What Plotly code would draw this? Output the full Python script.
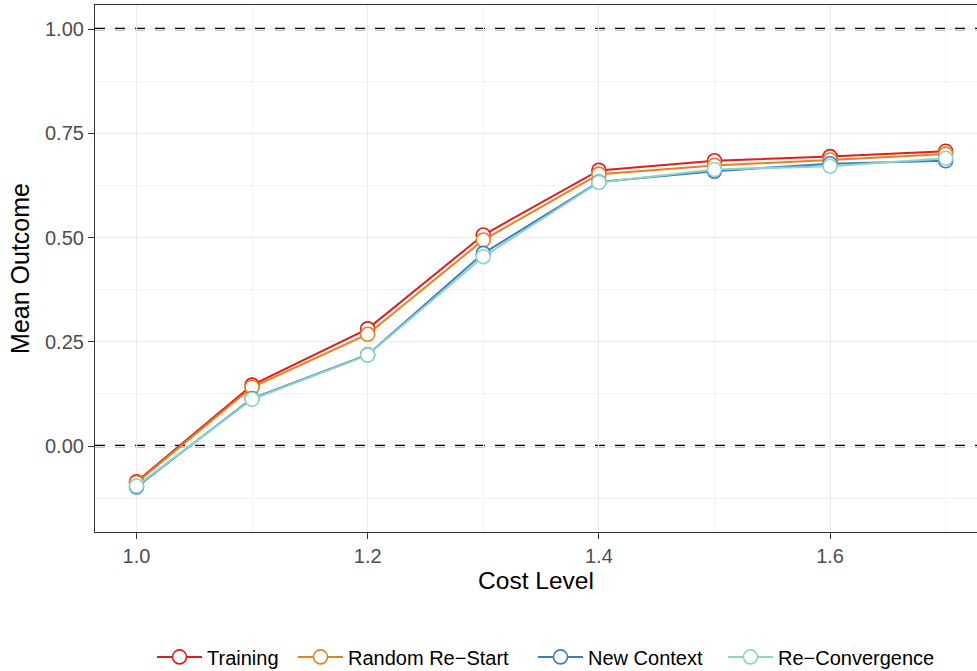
import plotly.graph_objects as go

cost_levels = [1.0, 1.1, 1.2, 1.3, 1.4, 1.5, 1.6, 1.7]
training = [-0.086, 0.146, 0.281, 0.506, 0.661, 0.684, 0.694, 0.707]
random_restart = [-0.088, 0.141, 0.268, 0.494, 0.652, 0.673, 0.686, 0.700]
new_context = [-0.098, 0.114, 0.219, 0.462, 0.633, 0.659, 0.677, 0.684]
re_convergence = [-0.096, 0.112, 0.218, 0.454, 0.632, 0.663, 0.671, 0.690]

series_names = ["Training", "Random Re\u2212Start", "New Context", "Re\u2212Convergence"]
series_values = [training, random_restart, new_context, re_convergence]
series_colors = ["#E41A1C", "#E8801E", "#3A7DC2", "#8ED3C7"]

x_ticks = [1.0, 1.2, 1.4, 1.6]
x_tick_labels = ["1.0", "1.2", "1.4", "1.6"]
y_ticks = [0.0, 0.25, 0.5, 0.75, 1.0]
y_tick_labels = ["0.00", "0.25", "0.50", "0.75", "1.00"]
ref_lines = [0.0, 1.0]

font_family = "Liberation Sans, Arial, sans-serif"

# legend entry left positions (pixels)
legend_px = [152, 293, 533, 723]
plot_left, plot_right = 95, 977

fig = go.Figure()
legend_ids = ["legend", "legend2", "legend3", "legend4"]
for name, vals, col, lid in zip(series_names, series_values, series_colors, legend_ids):
    fig.add_trace(go.Scatter(
        x=cost_levels, y=vals, name=name, mode="lines+markers",
        line=dict(color=col, width=2),
        marker=dict(symbol="circle", size=14, color="white",
                    line=dict(color=col, width=1.6)),
        legend=lid,
    ))

for yv in ref_lines:
    fig.add_shape(type="line", xref="paper", x0=0, x1=1, yref="y", y0=yv, y1=yv,
                  line=dict(color="black", width=2.6, dash="10px,10px"), layer="below")

legend_common = dict(orientation="h", xanchor="left", y=-0.237, yanchor="middle",
                     font=dict(size=20, color="black", family=font_family),
                     itemwidth=45, bgcolor="rgba(0,0,0,0)", borderwidth=0)
legends = {}
for lid, px in zip(legend_ids, legend_px):
    legends[lid] = dict(x=(px - plot_left) / (plot_right - plot_left), **legend_common)

grid_major = "#EBEBEB"
fig.update_layout(
    width=977, height=671,
    margin=dict(l=95, r=0, t=5, b=139, autoexpand=False),
    plot_bgcolor="white", paper_bgcolor="white",
    font=dict(family=font_family, color="black"),
    showlegend=True,
    xaxis=dict(
        range=[0.9641, 1.7271], tickvals=x_ticks, ticktext=x_tick_labels,
        showgrid=True, gridcolor=grid_major, gridwidth=1.2,
        minor=dict(tickvals=[1.1, 1.3, 1.5, 1.7], showgrid=True, gridcolor="#F3F3F3", gridwidth=0.6, ticks=""),
        ticks="outside", ticklen=6, tickwidth=1.2, tickcolor="#333333",
        tickfont=dict(size=20, color="#4D4D4D"),
        showline=True, linecolor="#333333", linewidth=1.2, mirror=True,
        zeroline=False, automargin=False,
        title=dict(text="Cost Level", font=dict(size=24.5, color="black"), standoff=5),
    ),
    yaxis=dict(
        range=[-0.2062, 1.0576], tickvals=y_ticks, ticktext=y_tick_labels,
        showgrid=True, gridcolor=grid_major, gridwidth=1.2,
        minor=dict(tickvals=[-0.125, 0.125, 0.375, 0.625, 0.875], showgrid=True, gridcolor="#F3F3F3", gridwidth=0.6, ticks=""),
        ticks="outside", ticklen=6, tickwidth=1.2, tickcolor="#333333",
        tickfont=dict(size=20, color="#4D4D4D"),
        showline=True, linecolor="#333333", linewidth=1.2, mirror=False,
        zeroline=False, automargin=False,
        title=dict(text="Mean Outcome", font=dict(size=25, color="black"), standoff=8),
    ),
    **legends,
)

fig.write_html("out.html", config={"displayModeBar": False},
               post_script="document.body.style.margin='0px';")
